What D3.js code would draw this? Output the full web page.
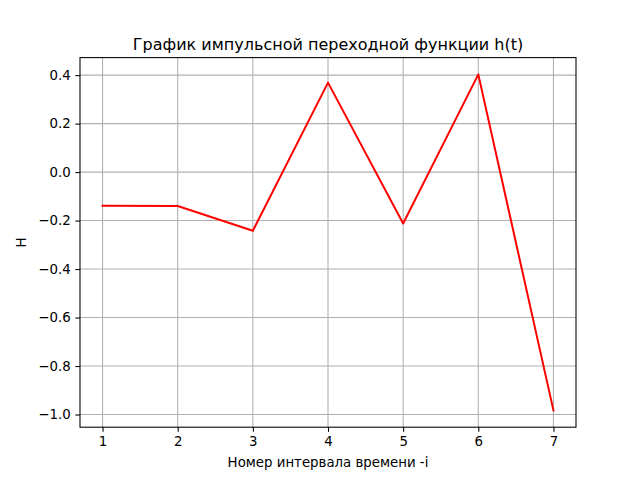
<!DOCTYPE html>
<html>
<head>
<meta charset="utf-8">
<script src="https://cdn.jsdelivr.net/npm/d3@7"></script>
<style>
  body { margin: 0; background: #fff; }
  svg { font-family: "DejaVu Sans", sans-serif; }
</style>
</head>
<body>
<div id="chart"></div>
<script>
"use strict"

// values
let intervals = [1, 2, 3, 4, 5, 6, 7];
let hValues = [-0.139, -0.140, -0.242, 0.369, -0.212, 0.403, -0.983];
let xTicks = [1, 2, 3, 4, 5, 6, 7];
let yTicks = [-1.0, -0.8, -0.6, -0.4, -0.2, 0.0, 0.2, 0.4];

let W = 640, H = 480;
let plotLeft = 80, plotRight = 576, plotTop = 57.6, plotBottom = 427.2;

let svg = d3.select("#chart")
    .append("svg")
    .attr("width", W)
    .attr("height", H);

// matplotlib style 5% padding
let xPad = (7 - 1) * 0.05;
let yMin = d3.min(hValues), yMax = d3.max(hValues);
let yPad = (yMax - yMin) * 0.05;

let x = d3.scaleLinear().domain([1 - xPad, 7 + xPad]).range([plotLeft, plotRight]);
let y = d3.scaleLinear().domain([yMin - yPad, yMax + yPad]).range([plotBottom, plotTop]);

/* grid lines */
svg.append("g").selectAll("line")
    .data(xTicks).enter().append("line")
    .attr("x1", d => x(d)).attr("x2", d => x(d))
    .attr("y1", plotTop).attr("y2", plotBottom)
    .attr("stroke", "#b0b0b0").attr("stroke-width", 1.07);

svg.append("g").selectAll("line")
    .data(yTicks).enter().append("line")
    .attr("x1", plotLeft).attr("x2", plotRight)
    .attr("y1", d => y(d)).attr("y2", d => y(d))
    .attr("stroke", "#b0b0b0").attr("stroke-width", 1.07);

/* the line */
let line = d3.line()
    .x((d, i) => x(intervals[i]))
    .y(d => y(d));

svg.append("path")
    .datum(hValues)
    .attr("d", line)
    .attr("fill", "none")
    .attr("stroke", "#ff0000")
    .attr("stroke-width", 2)
    .attr("stroke-linejoin", "round")
    .attr("stroke-linecap", "square");

/* axes */
let fmt = d => d < 0 ? "\u2212" + Math.abs(d).toFixed(1) : d.toFixed(1);

let xAxis = svg.append("g")
    .attr("transform", "translate(0," + plotBottom + ")")
    .call(d3.axisBottom(x).tickValues(xTicks).tickFormat(d3.format("d")).tickSize(4.67).tickPadding(4.67).tickSizeOuter(0));

let yAxis = svg.append("g")
    .attr("transform", "translate(" + plotLeft + ",0)")
    .call(d3.axisLeft(y).tickValues(yTicks).tickFormat(fmt).tickSize(4.67).tickPadding(4.67).tickSizeOuter(0));

[xAxis, yAxis].forEach(a => {
    a.select(".domain").remove();
    a.selectAll("text").attr("font-size", 13.33).attr("fill", "#000")
        .attr("font-family", "DejaVu Sans");
    a.selectAll("line").attr("stroke", "#000").attr("stroke-width", 1.07);
});

// frame
svg.append("rect")
    .attr("x", plotLeft).attr("y", plotTop)
    .attr("width", plotRight - plotLeft).attr("height", plotBottom - plotTop)
    .attr("fill", "none").attr("stroke", "#000").attr("stroke-width", 1.07);

/* labels */
svg.append("text")
    .attr("x", (plotLeft + plotRight) / 2).attr("y", plotTop - 8)
    .attr("text-anchor", "middle")
    .attr("font-size", 16)
    .text("График импульсной переходной функции h(t)");

svg.append("text")
    .attr("x", (plotLeft + plotRight) / 2).attr("y", 467)
    .attr("text-anchor", "middle")
    .attr("font-size", 13.33)
    .text("Номер интервала времени -i");

svg.append("text")
    .attr("transform", "translate(26," + ((plotTop + plotBottom) / 2) + ") rotate(-90)")
    .attr("text-anchor", "middle")
    .attr("font-size", 13.33)
    .text("H");
</script>
</body>
</html>
